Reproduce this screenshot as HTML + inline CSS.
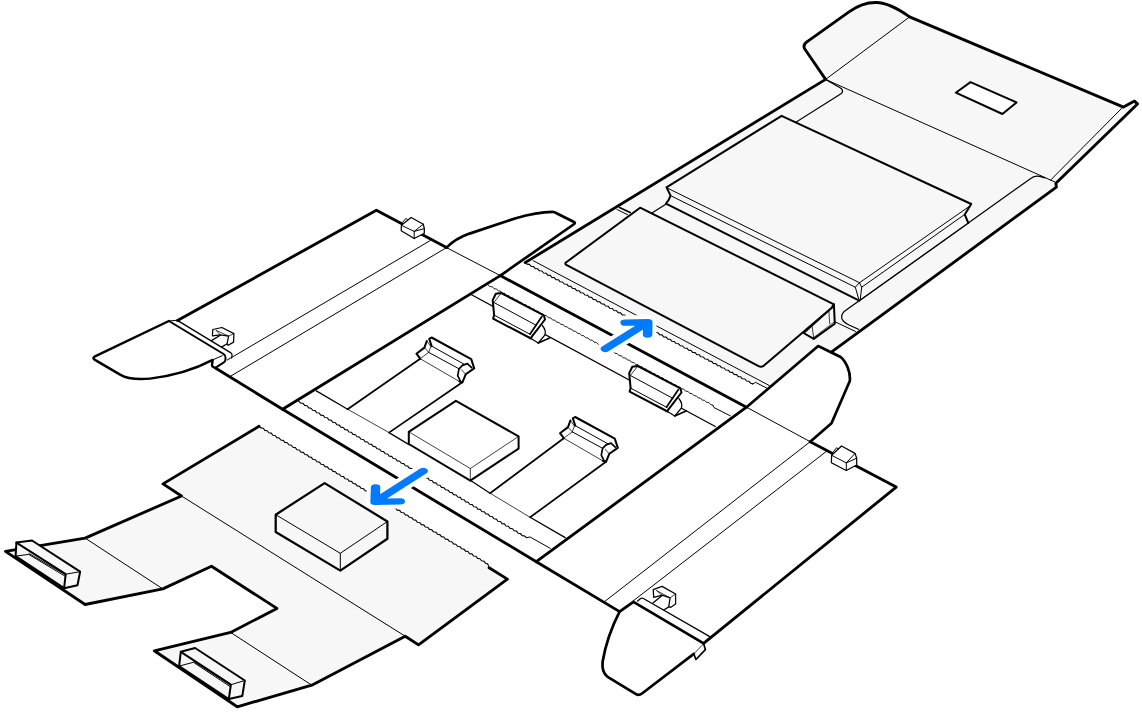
<!DOCTYPE html>
<html lang="en">
<head>
<meta charset="utf-8">
<title>Packaging illustration</title>
<style>
html,body{margin:0;padding:0;background:#fff;}
body{width:1142px;height:712px;overflow:hidden;font-family:"Liberation Sans",sans-serif;}
svg{display:block;position:absolute;left:0;top:0;}
path{fill:none;stroke:#000;stroke-linejoin:round;stroke-linecap:round;}
.b{stroke-width:2.85;}
.e{stroke-width:2.7;}
.o{stroke-width:2;}
.o2{stroke-width:2.25;}
.m{stroke-width:1.25;}
.p{stroke-width:1.7;}
.t{stroke-width:1;}
.h{stroke-width:0.75;}
.s{stroke-width:1.1;}
path.g{fill:#f7f7f7;}
path.w{fill:#fff;}
#fills path{stroke:none;}
path.ah{stroke:#fff;stroke-width:17.5;}
path.a{stroke:#007aff;stroke-width:9.5;}
</style>
</head>
<body>
<svg width="1142" height="712" viewBox="0 0 1142 712" role="img" aria-label="Unfolded packaging box with accessory trays">
<g id="fills" stroke="none">
<path class="g" d="M525.1,262.6 L825.6,79.4 L804.6,48.8 Q802.5,44.5 807.6,41.3 L849,11.9 C859,4.6 868,2.4 876,2.5 C888,2.7 899,9.2 909.6,16.9 L1123.5,107.1 L1134.5,101.1 L1137.5,103.9 L1055.9,183.2 L1056.4,187.2 L831.3,352.1 L818.2,346 L768,388.8 L752.9,383.9 Z"/>
<path class="g" d="M259.0,426.3 L163.0,483.9 L181.5,496.0 L85.1,538.1 L5.5,551.4 L85.1,604.5 L162.8,588.9 L211.5,566.3 L276.9,608.4 L230.6,632.4 L154.3,650.8 L237.2,706.8 L311.8,685.2 L405.2,636.2 L418.5,644.9 L507.4,579.1 L489.1,567.8 L487.8,564.0 Z"/>
</g>
<g id="left-panel">
<path class="b" d="M177.5,320.6 L376.4,210.2 L446.5,247.6"/>
<path class="b" d="M215.8,368.2 L282.6,409.3"/>
<path class="t" d="M430.2,240.6 L227.3,360"/>
<path class="t" d="M446.5,247.6 L230.3,376.4"/>
<path class="t" d="M446.5,247.6 L500.3,275.6"/>
<path class="m" d="M177.8,320.6 L230.5,352.6 Q232.6,354 232,356 L231.5,358"/>
<path class="t" d="M168.9,321 L177.8,320.2"/>
<path class="o" d="M168.9,321 L223.6,354 Q225.8,355.6 225.6,358 L225.3,360.3 Q225.1,361.6 223.8,362.4 L215.8,367.6"/>
<path class="t" d="M222.2,355.7 L212.3,360.1"/>
<path class="e" d="M168.9,321 L95,356.3 Q92,357.8 94.5,359.6 L120.1,374.6 Q130,380.5 150,378.6 Q185,374.5 212.7,359.9 L212,365 Q212,366.5 213.5,367.2 L215.8,368.2" style="stroke-width:2.4"/>
<path class="m" d="M220.3,335.2 L211.4,340.6 M227.3,343.7 L221.8,346.9"/>
<path class="m w" d="M212.8,329.5 L221.9,327.5 L233.9,333.6 L233.6,342.1 L228.2,345.3 L227.0,344.0 L228.6,336.1 L220.3,334.9 L212.4,335.8 Z"/>
<path class="h" d="M216.2,330.4 L228.6,336.1 L233.9,333.6 M216.2,330.4 L220.3,334.9"/>
<path class="m w" d="M401.4,225.3 L411.1,217.5 L423.3,224.2 L424.3,228.6 L424.3,233.3 L414.2,238.5 L401.2,230.8 Z"/>
<path class="t" d="M401.4,225.3 L414.2,231.4 L423.3,224.2 M414.2,231.4 L414.2,238.5 M414.2,231.4 L424.3,228.6 M402.6,222.3 L405.8,218.5 L407.3,219.4"/>
</g>
<g id="upper-ear">
<path class="e" d="M446.5,247.6 C452,242 460,237 469.5,233.6 L515.8,218.2 C530,214 542,212 552.4,211.9 Q554.5,211.9 556.5,213.2 L574,222 Q575.6,222.9 574.2,224 L500.3,275.6"/>
</g>
<g id="tray">
<path class="b" d="M500.3,275.6 L282.6,409.3 L536.3,561.7 L746.5,407.2 Z"/>
<path class="m" d="M470.1,294 L715.3,426.5"/>
<path class="m" d="M316.3,390.9 L347.6,409.2 M389,432.6 L409,444.6 M470.6,480.6 L490.1,493.2 M530.1,517.3 L565.2,537.6"/>
<path class="h" d="M347.6,409.2 L389,432.6 M490.1,493.2 L530.1,517.3"/>
<path class="s" d="M488.1,285.0 L489.9,286.6 L492.5,286.8 L494.1,288.8 L496.7,289.0 L498.3,291.0 L500.8,291.2 L502.4,293.2 L505.0,293.5 L506.6,295.5 L509.1,295.7 L510.8,297.7 L513.3,297.9 L514.9,299.9 L517.5,300.1 L519.1,302.1 L521.6,302.4 L523.2,304.4 L525.8,304.6 L527.4,306.6 L529.9,306.8 L531.6,308.8 L534.1,309.0 L535.7,311.0 L538.3,311.3 L539.9,313.3 L542.4,313.5 L544.0,315.5 L546.6,315.7 L548.2,317.7 L550.8,317.9 L552.4,319.9 L554.9,320.2 L556.5,322.2 L559.1,322.4 L560.7,324.4 L563.2,324.6 L564.8,326.6 L567.4,326.9 L569.0,328.8 L571.6,329.1 L573.2,331.1 L575.7,331.3 L577.3,333.3 L579.9,333.5 L581.5,335.5 L584.0,335.8 L585.7,337.8 L588.2,338.0 L589.8,340.0 L592.4,340.2 L594.0,342.2 L596.5,342.4 L598.1,344.4 L600.7,344.7 L602.3,346.7 L604.8,346.9 L606.5,348.9 L609.0,349.1 L610.6,351.1 L613.2,351.3 L614.8,353.3 L617.3,353.6 L618.9,355.6 L621.5,355.8 L623.1,357.8 L625.7,358.0 L627.3,360.0 L629.8,360.2 L631.4,362.2 L634.0,362.5 L635.6,364.5 L638.1,364.7 L639.7,366.7 L642.3,366.9 L643.9,368.9 L646.5,369.1 L648.1,371.1 L650.6,371.4 L652.2,373.4 L654.8,373.6 L656.4,375.6 L658.9,375.8 L660.6,377.8 L663.1,378.0 L664.7,380.0 L667.3,380.3 L668.9,382.3 L671.4,382.5 L673.0,384.5 L675.6,384.7 L677.2,386.7 L679.7,387.0 L681.4,388.9 L683.9,389.2 L685.5,391.2 L688.1,391.4 L689.7,393.4 L692.2,393.6 L693.8,395.6 L696.4,395.9 L698.0,397.9 L700.6,398.1 L702.2,400.1 L704.7,400.3 L706.3,402.3 L708.9,402.5 L710.5,404.5 L712.8,405.2" style="stroke-width:0.85"/>
<path class="t" d="M712.8,405.2 L714,407.6 L730.3,415.8"/>
<path class="s" d="M298.8,401.4 L300.6,403.0 L303.1,403.4 L304.6,405.4 L307.1,405.8 L308.6,407.9 L311.1,408.2 L312.6,410.3 L315.2,410.6 L316.7,412.7 L319.2,413.0 L320.7,415.1 L323.2,415.4 L324.7,417.5 L327.3,417.8 L328.8,419.9 L331.3,420.3 L332.8,422.3 L335.3,422.7 L336.8,424.7 L339.3,425.1 L340.8,427.1 L343.4,427.5 L344.9,429.6 L347.4,429.9 L348.9,432.0 L351.4,432.3 L352.9,434.4 L355.5,434.7 L357.0,436.8 L359.5,437.1 L361.0,439.2 L363.5,439.5 L365.0,441.6 L367.5,442.0 L369.0,444.0 L371.6,444.4 L373.1,446.4 L375.6,446.8 L377.1,448.8 L379.6,449.2 L381.1,451.2 L383.7,451.6 L385.2,453.7 L387.7,454.0 L389.2,456.1 L391.7,456.4 L393.2,458.5 L395.7,458.8 L397.2,460.9 L399.8,461.2 L401.3,463.3 L403.8,463.6 L405.3,465.7 L407.8,466.1 L409.3,468.1 L411.8,468.5 L413.4,470.5 L415.9,470.9 L417.4,472.9 L419.9,473.3 L421.4,475.4 L423.9,475.7 L425.4,477.8 L428.0,478.1 L429.5,480.2 L432.0,480.5 L433.5,482.6 L436.0,482.9 L437.5,485.0 L440.0,485.3 L441.5,487.4 L444.1,487.8 L445.6,489.8 L448.1,490.2 L449.6,492.2 L452.1,492.6 L453.6,494.6 L456.2,495.0 L457.7,497.0 L460.2,497.4 L461.7,499.5 L464.2,499.8 L465.7,501.9 L468.2,502.2 L469.7,504.3 L472.3,504.6 L473.8,506.7 L476.3,507.0 L477.8,509.1 L480.3,509.4 L481.8,511.5 L484.4,511.9 L485.9,513.9 L488.4,514.3 L489.9,516.3 L492.4,516.7 L493.9,518.7 L496.4,519.1 L497.9,521.2 L500.5,521.5 L502.0,523.6 L504.5,523.9 L506.0,526.0 L508.5,526.3 L510.0,528.4 L512.6,528.7 L514.1,530.8 L516.6,531.1 L518.1,533.2 L520.6,533.6 L522.1,535.6 L524.6,536.0 L526.4,537.6"/>
<path class="t" d="M526.4,537.6 L530.1,537 L550.2,548.3"/>
<path class="p" d="M347.6,409.2 L420.2,358.7 M389,432.6 L462.4,382.3"/>
<path class="p" d="M490.1,493.2 L563.8,438.2 M530.1,517.3 L606,461.8"/>
</g>
<g>
<path class="w" d="M416.4,353.7 L424.4,347.6 L426.8,341.0 L429.3,342.5 L429.5,338.5 L431.6,337.5 L471.2,359.1 L474.2,368.4 L465.7,374.3 L462.4,382.3 L459.4,381.5 L420.2,358.7 Z" style="stroke:none"/>
<path class="o" d="M416.4,353.7 L424.4,347.6 L426.8,341.0 M429.2,338.9 L431.6,337.5 L471.2,359.1 L474.2,368.4 L465.7,374.3 L462.4,382.3 L459.4,381.5 M416.4,353.7 L420.2,358.7 M429.3,339.0 L431.6,346.1"/>
<path class="p" d="M459.0,368.8 L462.4,365.4 L467.4,363.6 L471.6,367.6 M459.0,368.8 L457.7,375.6 L460.3,381.0"/>
<path class="t" d="M428.7,352.4 L459.0,368.8 M431.6,346.1 L464.1,364.2"/>
<path class="h" d="M420.2,358.7 L459.4,381.5 M426.8,341.0 L430.8,346.5 L428.7,352.4 L424.4,347.6 M428.7,352.4 L420.2,358.7 M461.5,369.7 L465.3,373.9"/>
</g>
<g>
<path class="w" d="M560.0,433.2 L568.0,427.1 L570.4,420.5 L572.9,422.0 L573.1,418.0 L575.2,417.0 L614.8,438.6 L617.8,447.9 L609.3,453.8 L606.0,461.8 L603.0,461.0 L563.8,438.2 Z" style="stroke:none"/>
<path class="o" d="M560.0,433.2 L568.0,427.1 L570.4,420.5 M572.8,418.4 L575.2,417.0 L614.8,438.6 L617.8,447.9 L609.3,453.8 L606.0,461.8 L603.0,461.0 M560.0,433.2 L563.8,438.2 M572.9,418.5 L575.2,425.6"/>
<path class="p" d="M602.6,448.3 L606.0,444.9 L611.0,443.1 L615.2,447.1 M602.6,448.3 L601.3,455.1 L603.9,460.5"/>
<path class="t" d="M572.3,431.9 L602.6,448.3 M575.2,425.6 L607.7,443.7"/>
<path class="h" d="M563.8,438.2 L603.0,461.0 M570.4,420.5 L574.4,426.0 L572.3,431.9 L568.0,427.1 M572.3,431.9 L563.8,438.2 M605.1,449.2 L608.9,453.4"/>
</g>
<g>
<path class="m w" d="M678.8,398.5 Q683.0,403.5 681.3,408.1 L674.8,416.0 L667.5,411.5"/>
<path class="p" d="M674.8,416.0 L686.1,410.9"/>
<path class="o w" d="M632.3,366.8 L637.8,366.0 L680.4,388.4 L681.5,392.5 L668.1,409.8 L667.5,411.5 L629.6,391.7 L630.6,387.9 L629.2,373.1 Z"/>
<path class="p" d="M678.4,389.6 L666.6,407.0"/>
<path class="t" d="M630.6,375.6 L673.1,398.5 M631.0,388.3 L667.0,407.5"/>
<path class="h" d="M637.8,366.0 L630.6,375.2"/>
</g>
<g>
<path class="m w" d="M542.3,325.5 Q546.5,330.5 544.8,335.1 L538.3,343.0 L531.0,338.5"/>
<path class="p" d="M538.3,343.0 L549.6,337.9"/>
<path class="o w" d="M495.8,293.8 L501.3,293.0 L543.9,315.4 L545.0,319.5 L531.6,336.8 L531.0,338.5 L493.1,318.7 L494.1,314.9 L492.7,300.1 Z"/>
<path class="p" d="M541.9,316.6 L530.1,334.0"/>
<path class="t" d="M494.1,302.6 L536.6,325.5 M494.5,315.3 L530.5,334.5"/>
<path class="h" d="M501.3,293.0 L494.1,302.2"/>
</g>
<path class="o w" d="M455.9,400.8 L518.6,436.4 L518.6,448.6 L470.3,480.7 L408.8,444.0 L408.8,431.8 Z"/>
<path class="h" d="M408.8,431.8 L470.3,468.5 L518.6,436.4 M470.3,468.5 L470.3,480.7"/>
<g id="right-panel">
<path class="t" d="M746.5,407.2 L810.2,441.7"/>
<path class="b" d="M810.2,441.7 L896.2,487.1 L703.6,643.4"/>
<path class="b" d="M536.3,561.7 L619.6,611.6 L633.4,601.9"/>
<path class="t" d="M810.2,441.7 L604.2,601.9"/>
<path class="t" d="M826.5,451.3 L633.6,600.6"/>
<path class="e" d="M633.4,601.9 L703.6,643.4"/>
<path class="m" d="M637.6,601.1 L640.6,598.6 Q641.9,597.6 643.4,598.5 L709.8,636.6"/>
<path class="e" d="M619.6,611.6 Q607,636 602.6,661.7 Q601.5,672.5 607.6,676.8 L636.4,694.3 Q639,695.6 642,693.5 L693.8,653.9"/>
<path class="p" d="M703.6,643.4 L705.4,649.7 L695.9,659.5 L693.8,653.9"/>
<path class="h" d="M693.8,653.9 L702.8,644.6"/>
<path class="m" d="M662.1,595.6 L653.2,602.8 M669.2,606.6 L663.8,610.0"/>
<path class="m w" d="M653.2,589.7 L662.1,586.4 L675.6,594.0 L675.6,604.1 L670.5,607.4 L668.8,606.2 L670.1,597.8 L662.1,595.2 L653.7,597.3 Z"/>
<path class="h" d="M656.6,590.6 L670.1,597.8 L675.6,594.0 M656.6,590.6 L662.1,595.2"/>
<path class="m w" d="M831.6,455.3 L841.5,446 L855,453.4 L856.7,458.2 L856.7,465 L846.3,470.5 L831.4,462.7 Z"/>
<path class="t" d="M831.6,455.3 L846.3,462.9 L855,453.4 M846.3,462.9 L846.3,470.5 M846.3,462.9 L856.7,458.2 M833.5,451.5 L836.5,447.8 L838.2,448.7"/>
</g>
<g id="lr-ear">
<path class="e" d="M746.5,407.2 L818.2,346 L840.6,357 C846,361.5 850.8,372 849.8,381 L831.5,423.2 L810.2,441.7"/>
</g>
<g id="upper-right-panel">
<path class="b" d="M525.1,262.6 L825.6,79.4 L804.6,48.8 Q802.5,44.5 807.6,41.3 L849,11.9 C859,4.6 868,2.4 876,2.5 C888,2.7 899,9.2 909.6,16.9 L1123.5,107.1 L1134.5,101.1 L1137.5,103.9 L1055.9,183.2 L1056.4,187.2 L831.3,352.1"/>
<path class="t" d="M825.6,79.4 L909.6,16.9"/>
<path class="t" d="M825.6,79.4 L1054.7,181.9 M1050.5,180.2 L1121.5,108.5"/>
<path class="o w" d="M970.5,82.1 L1016.5,102.4 L1002.4,114 L955.8,92.7 Z"/>
<path class="m" d="M825.6,79.4 L840.1,87.7 Q844.5,90.5 841,93.8 L617.1,235"/>
<path class="m" d="M1045,177.8 L1039.5,176.4 Q1034.5,175.6 1031.1,178.2 L845.5,310.6 Q840.5,314.3 842,319 Q843.5,322.3 849.5,325.3 L858.5,329.3"/>
<path class="t" d="M835.5,322 L855.5,331.5"/>
<path class="s" d="M525.1,262.6 L526.9,264.1 L529.5,264.4 L531.1,266.3 L533.6,266.6 L535.2,268.6 L537.8,268.8 L539.4,270.8 L541.9,271.0 L543.5,273.0 L546.0,273.2 L547.6,275.2 L550.2,275.4 L551.8,277.4 L554.3,277.6 L555.9,279.6 L558.5,279.8 L560.1,281.8 L562.6,282.0 L564.2,284.0 L566.8,284.2 L568.4,286.2 L570.9,286.4 L572.5,288.4 L575.0,288.6 L576.6,290.6 L579.2,290.8 L580.8,292.8 L583.3,293.0 L584.9,295.0 L587.5,295.2 L589.1,297.2 L591.6,297.4 L593.2,299.4 L595.7,299.7 L597.3,301.6 L599.9,301.9 L601.5,303.8 L604.0,304.1 L605.6,306.0 L608.2,306.3 L609.8,308.3 L612.3,308.5 L613.9,310.5 L616.5,310.7 L618.1,312.7 L620.6,312.9 L622.2,314.9 L624.7,315.1 L626.3,317.1 L628.9,317.3 L630.5,319.3 L633.0,319.5 L634.6,321.5 L637.2,321.7 L638.8,323.7 L641.3,323.9 L642.9,325.9 L645.4,326.1 L647.0,328.1 L649.6,328.3 L651.2,330.3 L653.7,330.5 L655.3,332.5 L657.9,332.7 L659.5,334.7 L662.0,334.9 L663.6,336.9 L666.2,337.1 L667.8,339.1 L670.3,339.3 L671.9,341.3 L674.4,341.6 L676.0,343.5 L678.6,343.8 L680.2,345.7 L682.7,346.0 L684.3,348.0 L686.9,348.2 L688.5,350.2 L691.0,350.4 L692.6,352.4 L695.1,352.6 L696.8,354.6 L699.3,354.8 L700.9,356.8 L703.4,357.0 L705.0,359.0 L707.6,359.2 L709.2,361.2 L711.7,361.4 L713.3,363.4 L715.9,363.6 L717.5,365.6 L720.0,365.8 L721.6,367.8 L724.1,368.0 L725.7,370.0 L728.3,370.2 L729.9,372.2 L732.4,372.4 L734.0,374.4 L736.6,374.6 L738.2,376.6 L740.7,376.8 L742.3,378.8 L744.9,379.0 L746.5,381.0 L749.0,381.3 L750.6,383.2 L752.9,383.9"/>
<path class="t" d="M752.9,383.9 L755.5,382.3 L768,388.8"/>
<path class="t" d="M533.2,260.7 L769.4,385.6"/>
<path class="p" d="M619.5,207.4 L630.2,212.5"/>
<path class="t" d="M617,209.5 L627.6,214.7"/>
<path class="o g" d="M833.9,304.3 L834.8,323.7 L813.7,338.9 L803.6,333 L831.4,308.1 Z"/>
<path class="h" d="M828.9,311 L829.7,323.7 M812,325.4 L813.7,338 M813.7,337.6 L833.5,322.5"/>
<path class="o g" d="M566.3,262.2 L640.1,207.7 L833.9,304.3 L831.4,308.1 L764,365.5 Q761.5,367.7 758.6,366.1 L566.3,264.8 Q564.3,263.5 566.3,262.2 Z"/>
<path class="g" d="M666.5,187.4 L781.6,115.8 L971.2,204 L964.8,214.6 L968.3,223 L859.2,300.6 L666,203.6 L670.5,195.4 Z" style="stroke:none"/>
<path class="m" d="M968.3,223 L859.2,300.8"/>
<path class="o" d="M859.2,300.6 L666,203.6 Q669.5,199.5 670.5,195.4 L666.5,187.4 L781.6,115.8 L971.2,204 L964.8,214.6 L968.3,223"/>
<path class="t" d="M668,188.4 L859.5,282.7 L968.6,206.9"/>
<path class="t" d="M670.5,195.6 L855.3,287.2 L859.2,300.6 M859.5,282.7 L855.3,287.2 M859.5,282.7 L861.7,287.2 L860.2,300 M861.7,287.2 L964.5,214.6"/>
</g>
<g id="bl-panel">
<path class="b" d="M259.0,426.3 L163.0,483.9 L181.5,496.0 L85.1,538.1 L5.5,551.4 L85.1,604.5 L162.8,588.9 L211.5,566.3 L276.9,608.4 L230.6,632.4 L154.3,650.8 L237.2,706.8 L311.8,685.2 L405.2,636.2 L418.5,644.9 L507.4,579.1 L489.1,567.8"/>
<path class="s" d="M259.0,426.3 L260.7,427.9 L263.3,428.3 L264.8,430.4 L267.3,430.7 L268.8,432.8 L271.3,433.1 L272.8,435.2 L275.3,435.5 L276.8,437.6 L279.3,438.0 L280.8,440.0 L283.3,440.4 L284.8,442.4 L287.4,442.8 L288.8,444.8 L291.4,445.2 L292.9,447.3 L295.4,447.6 L296.9,449.7 L299.4,450.0 L300.9,452.1 L303.4,452.4 L304.9,454.5 L307.4,454.9 L308.9,456.9 L311.4,457.3 L312.9,459.3 L315.5,459.7 L316.9,461.8 L319.5,462.1 L321.0,464.2 L323.5,464.5 L325.0,466.6 L327.5,466.9 L329.0,469.0 L331.5,469.4 L333.0,471.4 L335.5,471.8 L337.0,473.8 L339.5,474.2 L341.0,476.3 L343.6,476.6 L345.0,478.7 L347.6,479.0 L349.1,481.1 L351.6,481.4 L353.1,483.5 L355.6,483.9 L357.1,485.9 L359.6,486.3 L361.1,488.3 L363.6,488.7 L365.1,490.7 L367.6,491.1 L369.1,493.2 L371.7,493.5 L373.1,495.6 L375.7,495.9 L377.2,498.0 L379.7,498.3 L381.2,500.4 L383.7,500.8 L385.2,502.8 L387.7,503.2 L389.2,505.2 L391.7,505.6 L393.2,507.7 L395.7,508.0 L397.2,510.1 L399.7,510.4 L401.2,512.5 L403.8,512.8 L405.3,514.9 L407.8,515.3 L409.3,517.3 L411.8,517.7 L413.3,519.7 L415.8,520.1 L417.3,522.2 L419.8,522.5 L421.3,524.6 L423.8,524.9 L425.3,527.0 L427.8,527.3 L429.3,529.4 L431.9,529.8 L433.4,531.8 L435.9,532.2 L437.4,534.2 L439.9,534.6 L441.4,536.6 L443.9,537.0 L445.4,539.1 L447.9,539.4 L449.4,541.5 L451.9,541.8 L453.4,543.9 L455.9,544.2 L457.4,546.3 L460.0,546.7 L461.5,548.7 L464.0,549.1 L465.5,551.1 L468.0,551.5 L469.5,553.6 L472.0,553.9 L473.5,556.0 L476.0,556.3 L477.5,558.4 L480.0,558.7 L481.5,560.8 L484.0,561.2 L485.5,563.2 L487.8,564.0"/>
<path class="t" d="M487.8,564 L489.1,567.8"/>
<path class="t" d="M85.1,538.1 L162.8,588.9 M181.5,496 L405.2,636.2 M230.6,632.4 L311.8,685.2"/>
<path class="o2 g" d="M324.6,483.1 L387.4,521.5 L387.4,538.8 L340.3,570.6 L275.7,532.0 L275.7,514.7 Z"/>
<path class="t" d="M275.7,514.7 L340.3,553.3 L387.4,521.5 M340.3,553.3 L340.3,570.6"/>
<path class="o g" d="M16.4,542.6 L32.0,540.5 L80.1,571.7 L77.5,585.2 L64.1,588.2 L15.6,556.1 Z"/>
<path class="o" d="M16.4,542.6 L65.7,574.2 L64.1,588.2"/>
<path class="t" d="M65.7,574.2 L80.1,571.7 M15.6,556.1 L28.7,554.4 L64.5,575.8 M29.0,553.5 L65.1,574.6"/>
<path class="o g" d="M180.8,651.8 L195.1,648.0 L244.8,680.5 L242.3,696.0 L228.8,699.0 L179.1,666.1 Z"/>
<path class="o" d="M180.8,651.8 L230.9,684.7 L228.8,699.0"/>
<path class="t" d="M230.9,684.7 L244.8,680.5 M179.1,666.1 L193.4,662.3 L229.7,686.3 M193.7,661.4 L230.3,685.1"/>
</g>
<g id="arrows">
<path class="ah" d="M605.3,427.1 L647.8,394.4 M625.1,394.9 L647.8,394.4 L647.6,409.4" transform="scale(1,0.817)"/>
<path class="ah" d="M423.2,576.5 L375.1,614.2 M375.6,596.6 L375.1,614.2 L400.2,613.7" transform="scale(1,0.817)"/>
<path class="a" d="M605.3,526.2 L647.8,486.0 M625.1,486.6 L647.8,486.0 L647.6,504.5" transform="scale(1,0.663)"/>
<path class="a" d="M423.2,710.4 L375.1,756.9 M375.6,735.1 L375.1,756.9 L400.2,756.3" transform="scale(1,0.663)"/>
</g>
</svg>
</body>
</html>
